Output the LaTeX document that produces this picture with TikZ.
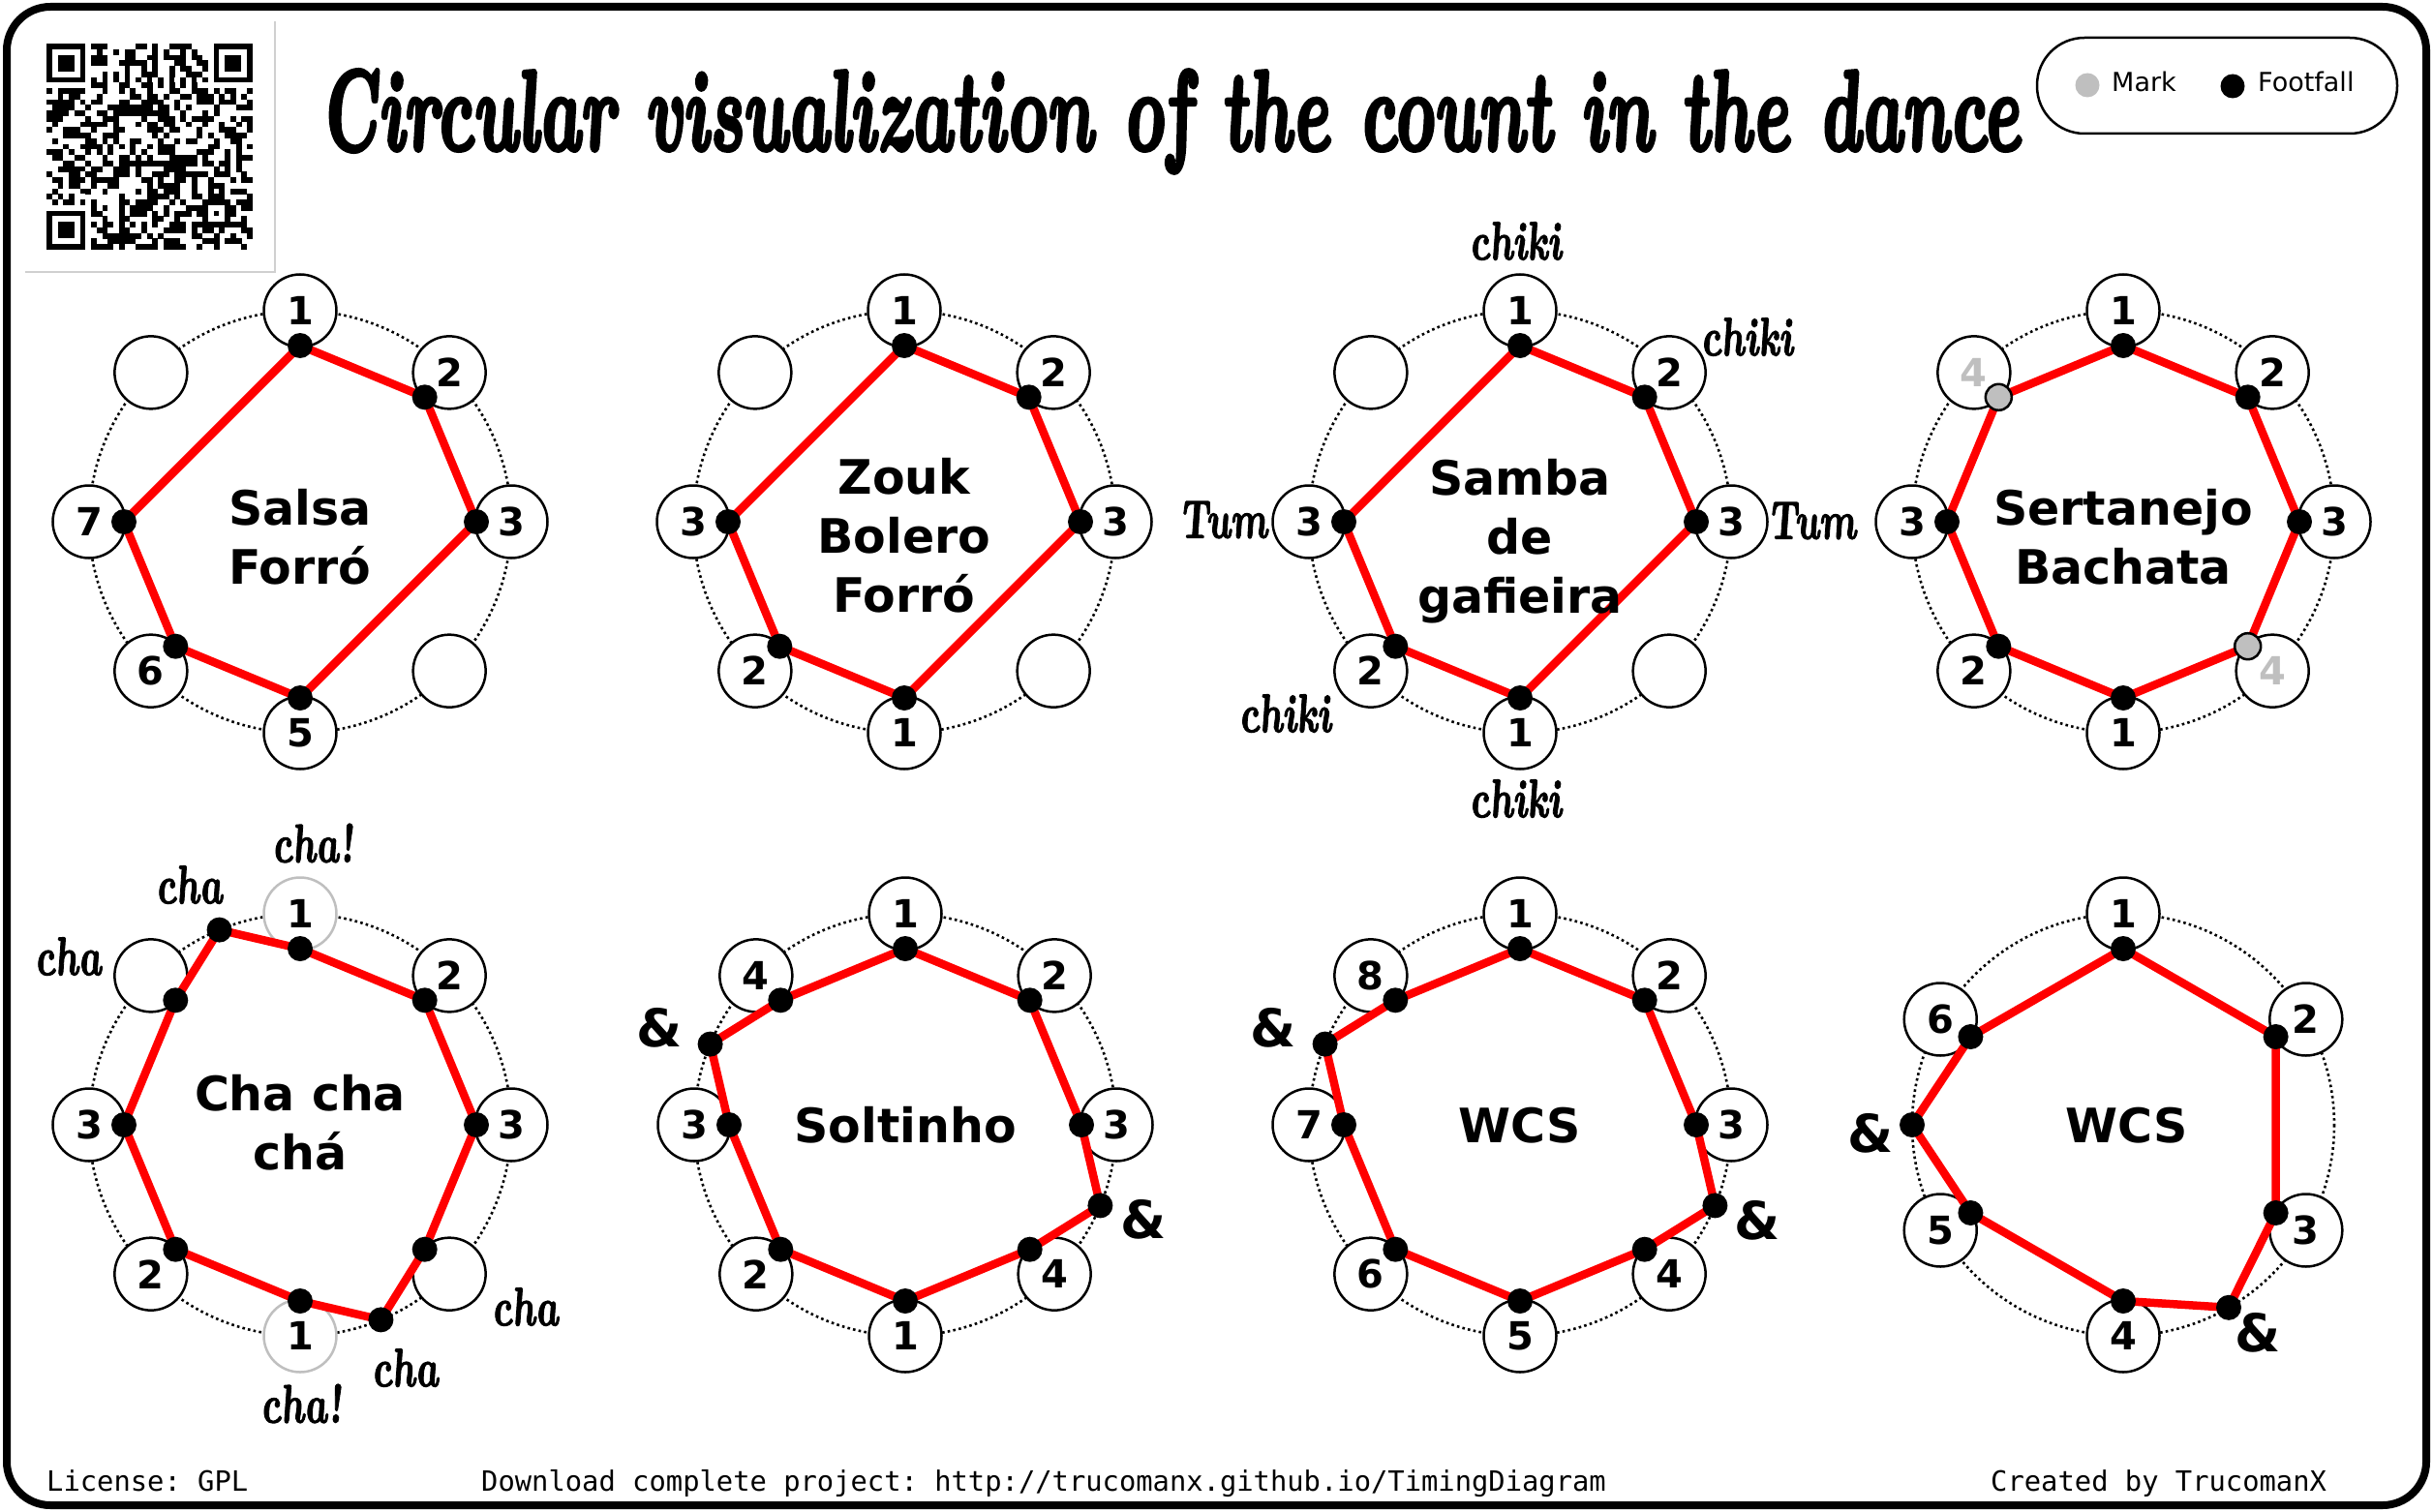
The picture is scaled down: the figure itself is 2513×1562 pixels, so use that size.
\documentclass[tikz,border=0pt]{standalone}
\usepackage{fontspec}
\usepackage{graphicx}
\setmainfont{DejaVu Sans}
\newfontfamily\lmbi{lmroman10-bolditalic.otf}[FakeBold=3.5,FakeSlant=-0.15]
\newfontfamily\lmbil{lmroman10-bolditalic.otf}[FakeBold=2,FakeSlant=-0.15]
\newfontfamily\monofont{DejaVu Sans Mono}
\definecolor{markgray}{HTML}{BFBFBF}
\definecolor{boxgray}{HTML}{D0D0D0}
\newcommand\scr[1]{\scalebox{0.72}[1]{\lmbil\fontsize{56}{60}\selectfont #1}}
\newcommand\dance[3]{%
  \draw[ringline] (0,0) circle[radius=218];
  \foreach \ang/\lab/\sty [count=\k] in {#2}{\node[numc,\sty] (#1-c\k) at (\ang-90:218) {\lab};}
  \foreach \ang/\rad/\dsty [count=\k] in {#3}{\coordinate (#1-p\k) at (\ang-90:\rad); \xdef\npts{\k}}
  \draw[redline] (#1-p1) \foreach \k in {2,...,\npts}{ -- (#1-p\k)} -- cycle;
  \foreach \ang/\rad/\dsty [count=\k] in {#3}{\node[\dsty] (#1-d\k) at (#1-p\k) {};}
}
\frenchspacing
\begin{document}
\begin{tikzpicture}[x=1pt,y=-1pt,
  ringline/.style={line width=2.6pt, dash pattern=on 2.6pt off 3.2pt},
  numc/.style={circle, draw=black, fill=white, line width=2.5pt, minimum size=75pt, inner sep=0pt, font=\bfseries\fontsize{40}{40}\selectfont},
  nostyle/.style={},
  grayc/.style={draw=markgray},
  grayt/.style={text=markgray},
  fdot/.style={circle, fill=black, minimum size=26pt, inner sep=0pt},
  mdot/.style={circle, fill=markgray, draw=black, line width=2.5pt, minimum size=27pt, inner sep=0pt},
  redline/.style={draw=red, line width=8.5pt, line join=round},
  lbl/.style={align=center, inner sep=0pt, font=\bfseries\fontsize{49}{61}\selectfont},
  amp/.style={inner sep=0pt, font=\bfseries\fontsize{54}{54}\selectfont},
  scrl/.style={inner sep=0pt},
  foot/.style={anchor=base west, inner sep=0pt, font=\monofont\fontsize{28.8}{30}\selectfont},
  legt/.style={anchor=base west, inner sep=0pt, font=\fontsize{27}{28}\selectfont},
]
\useasboundingbox (0,0) rectangle (2513,1562);
\fill[white] (0,0) rectangle (2513,1562);
\draw[line width=8pt, rounded corners=45pt] (7,7) rectangle (2506,1555);

% QR code (pattern)
\begin{scope}[shift={(48,45)}, x=5.757pt, y=-5.757pt]
  \pgfmathsetseed{4242}
  \foreach \i in {0,...,36}{\foreach \j in {0,...,36}{%
    \pgfmathrandominteger{\b}{0}{1}%
    \ifnum\b=1 \fill (\i,\j) rectangle ++(1.02,1.02);\fi}}
  \foreach \px/\py in {0/0,30/0,0/30}{
    \fill[white] (\px-1,\py-1) rectangle ++(9,9);
    \fill[black] (\px,\py) rectangle ++(7,7);
    \fill[white] (\px+1,\py+1) rectangle ++(5,5);
    \fill[black] (\px+2,\py+2) rectangle ++(3,3);
  }
  \foreach \t in {8,...,28}{
    \pgfmathparse{int(mod(\t,2))}
    \ifnum\pgfmathresult=0
      \fill[black] (\t,6) rectangle ++(1,1); \fill[black] (6,\t) rectangle ++(1,1);
    \else
      \fill[white] (\t,6) rectangle ++(1,1); \fill[white] (6,\t) rectangle ++(1,1);
    \fi
  }
  \fill[black] (28,28) rectangle ++(5,5);
  \fill[white] (29,29) rectangle ++(3,3);
  \fill[black] (30,30) rectangle ++(1,1);
\end{scope}
\draw[boxgray, line width=2pt] (26,281) -- (284,281) -- (284,22);

% title
\node[anchor=base, inner sep=0pt] (title) at (1210,155) {\resizebox{1756pt}{\height}{\lmbi\fontsize{118}{120}\selectfont Circular visualization of the count in the dance}};

% legend
\draw[line width=2.5pt, rounded corners=49pt] (2104,39) rectangle (2476,138);
\node[circle, fill=markgray, minimum size=25pt, inner sep=0pt] (legM) at (2156,88) {};
\node[legt] (legMt) at (2181,95) {Mark};
\node[circle, fill=black, minimum size=25pt, inner sep=0pt] (legF) at (2306,89) {};
\node[legt] (legFt) at (2332,95) {Footfall};

% Salsa
\begin{scope}[shift={(310,539)}]
\dance{A}{0/1/nostyle,45/2/nostyle,90/3/nostyle,135//nostyle,180/5/nostyle,225/6/nostyle,270/7/nostyle,315//nostyle}
{0/182/fdot,45/182/fdot,90/182/fdot,180/182/fdot,225/182/fdot,270/182/fdot}
\node[lbl] (A-t) at (0,16) {Salsa\\Forró};
\end{scope}

% Zouk
\begin{scope}[shift={(934,539)}]
\dance{B}{0/1/nostyle,45/2/nostyle,90/3/nostyle,135//nostyle,180/1/nostyle,225/2/nostyle,270/3/nostyle,315//nostyle}
{0/182/fdot,45/182/fdot,90/182/fdot,180/182/fdot,225/182/fdot,270/182/fdot}
\node[lbl] (B-t) at (0,14) {Zouk\\Bolero\\Forró};
\end{scope}

% Samba
\begin{scope}[shift={(1570,539)}]
\dance{C}{0/1/nostyle,45/2/nostyle,90/3/nostyle,135//nostyle,180/1/nostyle,225/2/nostyle,270/3/nostyle,315//nostyle}
{0/182/fdot,45/182/fdot,90/182/fdot,180/182/fdot,225/182/fdot,270/182/fdot}
\node[lbl] (C-t) at (0,20) {Samba\\de\\gafieira};
\end{scope}
\node[scrl] (C-l1) at (1566,249) {\scr{chiki}};
\node[scrl] (C-l2) at (1805,348) {\scr{chiki}};
\node[scrl] (C-l3) at (1264,537) {\scr{Tum}};
\node[scrl] (C-l4) at (1872,538) {\scr{Tum}};
\node[scrl] (C-l5) at (1328,737) {\scr{chiki}};
\node[scrl] (C-l6) at (1566,825) {\scr{chiki}};

% Sertanejo
\begin{scope}[shift={(2193,539)}]
\dance{D}{0/1/nostyle,45/2/nostyle,90/3/nostyle,135/4/grayt,180/1/nostyle,225/2/nostyle,270/3/nostyle,315/4/grayt}
{0/182/fdot,45/182/fdot,90/182/fdot,135/182/mdot,180/182/fdot,225/182/fdot,270/182/fdot,315/182/mdot}
\node[lbl] (D-t) at (0,16) {Sertanejo\\Bachata};
\end{scope}

% Cha cha cha
\begin{scope}[shift={(310,1162)}]
\dance{E}{0/1/grayc,45/2/nostyle,90/3/nostyle,135//nostyle,180/1/grayc,225/2/nostyle,270/3/nostyle,315//nostyle}
{0/182/fdot,45/182/fdot,90/182/fdot,135/182/fdot,157.5/218/fdot,180/182/fdot,225/182/fdot,270/182/fdot,315/182/fdot,337.5/218/fdot}
\node[lbl] (E-t) at (0,-2) {Cha cha\\chá};
\end{scope}
\node[scrl] (E-l1) at (324,871) {\scr{cha!}};
\node[scrl] (E-l2) at (196,914) {\scr{cha}};
\node[scrl] (E-l3) at (71,988) {\scr{cha}};
\node[scrl] (E-l4) at (543,1350) {\scr{cha}};
\node[scrl] (E-l5) at (419,1413) {\scr{cha}};
\node[scrl] (E-l6) at (312,1450) {\scr{cha!}};

% Soltinho
\begin{scope}[shift={(935,1162)}]
\dance{F}{0/1/nostyle,45/2/nostyle,90/3/nostyle,135/4/nostyle,180/1/nostyle,225/2/nostyle,270/3/nostyle,315/4/nostyle}
{0/182/fdot,45/182/fdot,90/182/fdot,112.5/218/fdot,135/182/fdot,180/182/fdot,225/182/fdot,270/182/fdot,292.5/218/fdot,315/182/fdot}
\node[lbl] (F-t) at (0,0) {Soltinho};
\end{scope}
\node[amp] (F-a1) at (1181,1260) {\&};
\node[amp] (F-a2) at (681,1062) {\&};

% WCS
\begin{scope}[shift={(1570,1162)}]
\dance{G}{0/1/nostyle,45/2/nostyle,90/3/nostyle,135/4/nostyle,180/5/nostyle,225/6/nostyle,270/7/nostyle,315/8/nostyle}
{0/182/fdot,45/182/fdot,90/182/fdot,112.5/218/fdot,135/182/fdot,180/182/fdot,225/182/fdot,270/182/fdot,292.5/218/fdot,315/182/fdot}
\node[lbl] (G-t) at (0,1) {WCS};
\end{scope}
\node[amp] (G-a1) at (1815,1261) {\&};
\node[amp] (G-a2) at (1315,1062) {\&};

% WCS hexagon
\begin{scope}[shift={(2193,1162)}]
\dance{H}{0/1/nostyle,60/2/nostyle,120/3/nostyle,180/4/nostyle,240/5/nostyle,300/6/nostyle}
{0/182/fdot,60/182/fdot,120/182/fdot,150/218/fdot,180/182/fdot,240/182/fdot,270/218/fdot,300/182/fdot}
\node[lbl] (H-t) at (4,1) {WCS};
\end{scope}
\node[amp] (H-a1) at (2332,1377) {\&};
\node[amp] (H-a2) at (1932,1171) {\&};

% footer
\node[foot] (lic) at (48,1540) {License: GPL};
\node[foot] (dl) at (497,1540) {Download complete project: http://trucomanx.github.io/TimingDiagram};
\node[foot] (cr) at (2056,1540) {Created by TrucomanX};
\end{tikzpicture}
\end{document}
